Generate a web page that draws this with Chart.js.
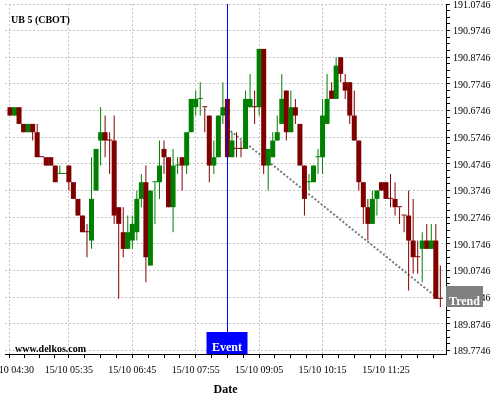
<!DOCTYPE html>
<html>
<head>
<meta charset="utf-8">
<script src="https://cdn.jsdelivr.net/npm/chart.js@4.4.1/dist/chart.umd.min.js"></script>
<style>
  html, body { margin: 0; padding: 0; background: #fff; }
</style>
</head>
<body>
<canvas id="c" width="500" height="400"></canvas>
<script>
// UB 5 (CBOT) — bougies 5 min du 15/10, event + trend
const title = 'UB 5 (CBOT)';
const watermark = 'www.delkos.com';

const open = [
  190.6875, 190.65625, 190.6875, 190.625, 190.59375, 190.625, 190.59375, 190.5, 190.5, 190.5,
  190.46875, 190.4375, 190.4375, 190.46875, 190.40625, 190.34375, 190.28125, 190.21875, 190.1875, 190.375,
  190.5625, 190.59375, 190.5625, 190.5625, 190.3125, 190.21875, 190.15625, 190.1875, 190.21875, 190.34375,
  190.40625, 190.09375, 190.40625, 190.40625, 190.53125, 190.5, 190.3125, 190.46875, 190.5, 190.46875,
  190.59375, 190.6875, 190.71875, 190.6875, 190.65625, 190.46875, 190.5, 190.65625, 190.71875, 190.5,
  190.53125, 190.53125, 190.53125, 190.6875, 190.6875, 190.6875, 190.90625, 190.46875, 190.5, 190.5625,
  190.625, 190.75, 190.59375, 190.6875, 190.625, 190.46875, 190.40625, 190.40625, 190.5, 190.5,
  190.625, 190.75, 190.71875, 190.875, 190.78125, 190.78125, 190.65625, 190.5625, 190.40625, 190.3125,
  190.25, 190.34375, 190.40625, 190.40625, 190.34375, 190.34375, 190.3125, 190.28125, 190.28125, 190.1875,
  190.125, 190.15625, 190.1875, 190.15625, 190.1875, 189.96875,
];
const high = [
  190.6875, 190.6875, 190.6875, 190.625, 190.625, 190.625, 190.625, 190.5, 190.5, 190.5,
  190.46875, 190.46875, 190.4375, 190.46875, 190.40625, 190.34375, 190.28125, 190.25, 190.5, 190.53125,
  190.6875, 190.65625, 190.59375, 190.65625, 190.3125, 190.3125, 190.28125, 190.28125, 190.375, 190.4375,
  190.46875, 190.375, 190.40625, 190.5625, 190.5625, 190.5, 190.53125, 190.5, 190.5, 190.59375,
  190.71875, 190.75, 190.78125, 190.6875, 190.65625, 190.5625, 190.65625, 190.78125, 190.71875, 190.59375,
  190.59375, 190.5625, 190.75, 190.8125, 190.75, 190.90625, 190.90625, 190.53125, 190.59375, 190.65625,
  190.8125, 190.75, 190.75, 190.71875, 190.625, 190.46875, 190.4375, 190.46875, 190.53125, 190.71875,
  190.8125, 190.78125, 190.875, 190.875, 190.8125, 190.78125, 190.75, 190.5625, 190.40625, 190.34375,
  190.375, 190.375, 190.40625, 190.40625, 190.4375, 190.40625, 190.3125, 190.28125, 190.375, 190.34375,
  190.1875, 190.21875, 190.25, 190.25, 190.25, 190.09375,
];
const low = [
  190.65625, 190.65625, 190.625, 190.59375, 190.59375, 190.5625, 190.5, 190.5, 190.46875, 190.46875,
  190.40625, 190.4375, 190.4375, 190.375, 190.34375, 190.28125, 190.21875, 190.125, 190.15625, 190.375,
  190.46875, 190.5, 190.4375, 190.25, 189.96875, 190.125, 190.15625, 190.15625, 190.1875, 190.3125,
  190.03125, 190.09375, 190.25, 190.34375, 190.4375, 190.3125, 190.21875, 190.4375, 190.375, 190.4375,
  190.59375, 190.65625, 190.65625, 190.59375, 190.40625, 190.4375, 190.5, 190.625, 190.5, 190.5,
  190.5, 190.5, 190.53125, 190.6875, 190.625, 190.65625, 190.4375, 190.375, 190.5, 190.5625,
  190.625, 190.5625, 190.59375, 190.625, 190.46875, 190.28125, 190.375, 190.40625, 190.4375, 190.4375,
  190.625, 190.71875, 190.71875, 190.78125, 190.71875, 190.625, 190.5625, 190.375, 190.25, 190.1875,
  190.25, 190.28125, 190.375, 190.34375, 190.3125, 190.28125, 190.25, 190.21875, 190.0, 190.0625,
  190.0625, 190.03125, 190.15625, 190.15625, 189.96875, 189.9375,
];
const close = [
  190.65625, 190.6875, 190.625, 190.59375, 190.625, 190.59375, 190.5, 190.5, 190.46875, 190.46875,
  190.40625, 190.4375, 190.4375, 190.40625, 190.34375, 190.28125, 190.21875, 190.21875, 190.34375, 190.53125,
  190.59375, 190.5625, 190.5625, 190.28125, 190.25, 190.15625, 190.21875, 190.25, 190.34375, 190.40625,
  190.125, 190.375, 190.40625, 190.46875, 190.5, 190.3125, 190.46875, 190.46875, 190.46875, 190.59375,
  190.71875, 190.71875, 190.71875, 190.6875, 190.46875, 190.5, 190.65625, 190.6875, 190.5, 190.5625,
  190.53125, 190.53125, 190.71875, 190.71875, 190.6875, 190.90625, 190.46875, 190.53125, 190.5625, 190.59375,
  190.71875, 190.59375, 190.6875, 190.65625, 190.46875, 190.34375, 190.40625, 190.46875, 190.5, 190.65625,
  190.71875, 190.71875, 190.84375, 190.8125, 190.75, 190.65625, 190.5625, 190.40625, 190.3125, 190.25,
  190.34375, 190.375, 190.375, 190.34375, 190.34375, 190.3125, 190.3125, 190.28125, 190.1875, 190.125,
  190.125, 190.1875, 190.15625, 190.1875, 189.96875, 189.96875,
];

// ticks (index de bougie -> libellé)
const xTickIndex = [0, 13, 27, 41, 55, 69, 83];
const xTickLabels = ['15/10 04:30', '15/10 05:35', '15/10 06:45', '15/10 07:55', '15/10 09:05', '15/10 10:15', '15/10 11:25'];
const yTicks = [189.7746, 189.8746, 189.9746, 190.0746, 190.1746, 190.2746, 190.3746, 190.4746,
  190.5746, 190.6746, 190.7746, 190.8746, 190.9746, 191.0746];

const eventIndex = 48;
const trendX = [48, 94];
const trendY = [190.608, 189.977];

const UP = '#008000';
const DOWN = '#800000';
const SERIF = '"Liberation Serif", "Times New Roman", serif';

// couleur : sens de la bougie, sinon vs clôture précédente, sinon on garde
const candleColor = [];
for (let i = 0; i < close.length; i++) {
  let up;
  if (close[i] !== open[i]) up = close[i] > open[i];
  else if (i > 0 && close[i] !== close[i - 1]) up = close[i] > close[i - 1];
  else up = i > 0 ? candleColor[i - 1] === UP : false;
  candleColor.push(up ? UP : DOWN);
}

function buildXTicks(scale) {
  const t = [];
  xTickIndex.forEach((a, j) => {
    const b = j + 1 < xTickIndex.length ? xTickIndex[j + 1] : a + 14;
    for (let q = 0; q < 4; q++) {
      const v = a + ((b - a) * q) / 4;
      if (v <= scale.max) t.push({ value: v, big: q === 0 });
    }
  });
  scale.ticks = t;
}

function buildYTicks(scale) {
  const t = [];
  yTicks.forEach((v, j) => {
    t.push({ value: v, big: true });
    if (j + 1 < yTicks.length) {
      for (let q = 1; q < 4; q++) t.push({ value: v + ((yTicks[j + 1] - v) * q) / 4, big: false });
    }
  });
  scale.ticks = t;
}

const gridOpts = {
  color: (c) => (c.tick && c.tick.big ? '#c4c4c4' : 'rgba(0,0,0,0)'),
  lineWidth: 1,
  tickColor: '#000',
  tickWidth: 1,
  tickLength: 4,
  tickBorderDash: [],
  offset: false,
};
const borderOpts = { display: true, color: '#000', width: 1, dash: [2, 2] };

const overlay = {
  id: 'overlay',
  afterDraw(chart) {
    const { ctx, chartArea: a, scales: { x, y } } = chart;
    const ex = Math.round(x.getPixelForValue(eventIndex)) + 0.5;
    ctx.save();
    // event
    ctx.strokeStyle = '#0000ff';
    ctx.lineWidth = 1;
    ctx.beginPath();
    ctx.moveTo(ex, a.top);
    ctx.lineTo(ex, a.bottom - 22);
    ctx.stroke();
    ctx.fillStyle = '#0000ff';
    ctx.fillRect(ex - 21, a.bottom - 22, 41, 22);
    ctx.font = 'bold 12px ' + SERIF;
    ctx.textAlign = 'center';
    ctx.textBaseline = 'alphabetic';
    ctx.fillStyle = '#fff';
    ctx.fillText('Event', ex - 0.5, a.bottom - 3.5);
    // trend label
    const ty = y.getPixelForValue(trendY[trendY.length - 1]);
    ctx.fillStyle = '#808080';
    ctx.fillRect(a.right, Math.round(ty - 10.5), 37, 21);
    ctx.fillStyle = '#fff';
    ctx.fillText('Trend', a.right + 18.5, ty + 8);
    // titre + watermark
    ctx.fillStyle = '#000';
    ctx.textAlign = 'left';
    ctx.font = 'bold 10px ' + SERIF;
    ctx.fillText(title, 11, 23);
    ctx.fillText(watermark, 15, 352);
    ctx.restore();
  },
};

new Chart(document.getElementById('c'), {
  type: 'bar',
  data: {
    datasets: [
      {
        type: 'bar', label: 'Body',
        data: open.map((o, i) => ({ x: i, y: [o, close[i]] })),
        backgroundColor: candleColor, borderWidth: 0, barThickness: 5, minBarLength: 1,
        inflateAmount: 0, grouped: false, order: 1,
      },
      {
        type: 'bar', label: 'Wick',
        data: low.map((l, i) => ({ x: i, y: [l, high[i]] })),
        backgroundColor: candleColor, borderWidth: 0, barThickness: 1,
        inflateAmount: 0, grouped: false, order: 2,
      },
      {
        type: 'line', label: 'Trend',
        data: trendX.map((tx, i) => ({ x: tx, y: trendY[i] })),
        borderColor: '#7a7a7a', borderWidth: 2, borderDash: [2, 2], pointRadius: 0, fill: false, order: 3,
      },
    ],
  },
  options: {
    responsive: false,
    animation: false,
    events: [],
    layout: { padding: { left: 5, top: 4, right: 0, bottom: 0 } },
    plugins: { legend: { display: false }, tooltip: { enabled: false } },
    scales: {
      x: {
        type: 'linear', min: -1.1, max: 96.25, offset: false,
        afterBuildTicks: buildXTicks,
        afterFit(s) { s.height = 46; s.paddingLeft = 0; s.paddingRight = 0; },
        ticks: {
          autoSkip: false, maxRotation: 0, minRotation: 0, padding: 6, color: '#000',
          font: { family: SERIF, size: 10 },
          callback: (v) => { const k = xTickIndex.indexOf(v); return k >= 0 ? xTickLabels[k] : ''; },
        },
        grid: gridOpts,
        border: borderOpts,
        title: {
          display: true, text: 'Date', color: '#000',
          font: { family: SERIF, size: 12, weight: 'bold' }, padding: { top: 0, bottom: 3 },
        },
      },
      y: {
        type: 'linear', position: 'right', min: 189.762, max: 191.0746,
        afterBuildTicks: buildYTicks,
        afterFit(s) { s.width = 54; s.paddingTop = 0; s.paddingBottom = 0; },
        ticks: {
          autoSkip: false, padding: 3, labelOffset: 1, color: '#000',
          font: { family: SERIF, size: 10 },
          callback: (v, i, ticks) => (ticks[i].big ? v.toFixed(4) : ''),
        },
        grid: gridOpts,
        border: borderOpts,
      },
    },
  },
  plugins: [overlay],
});
</script>
</body>
</html>
